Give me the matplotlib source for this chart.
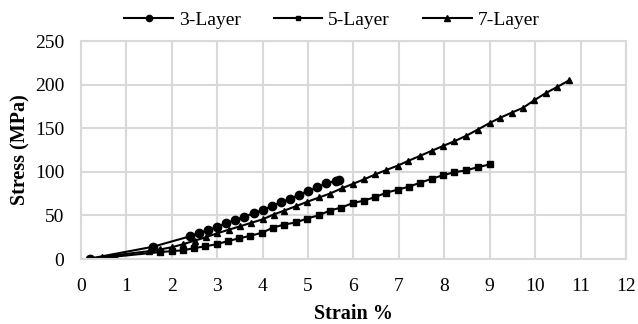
import matplotlib
matplotlib.use("Agg")
import matplotlib.pyplot as plt

# stress-strain data for the three laminates
strain_3 = [0.2, 1.58, 2.4, 2.6, 2.8, 3.0, 3.2, 3.4, 3.6, 3.8, 4.0, 4.2,
            4.4, 4.6, 4.8, 5.0, 5.2, 5.4, 5.62, 5.69]
stress_3 = [0.5, 14, 26, 30, 33, 37, 41, 45, 48.5, 52.5, 56, 60.5,
            65, 69, 73.5, 78, 82, 87, 89.5, 90.5]

strain_5 = [0.2, 0.72, 1.75, 2.0, 2.25, 2.49, 2.73, 2.99, 3.24, 3.48, 3.72,
            3.98, 4.23, 4.47, 4.74, 4.97, 5.23, 5.48, 5.73, 5.98, 6.23, 6.48,
            6.72, 6.97, 7.22, 7.47, 7.72, 7.97, 8.22, 8.47, 8.74, 9.0]
stress_5 = [0.3, 2.6, 8, 9, 10, 12.5, 14.5, 17, 20.6, 23.7, 26.5,
            30, 36, 39.5, 42, 46.4, 50, 55.6, 59, 64, 67, 71,
            76, 79.5, 83, 87.5, 92, 96, 99.6, 101.5, 105.4, 108.4]

strain_7 = [0.2, 0.47, 1.5, 1.75, 2.0, 2.25, 2.5, 2.75, 3.0, 3.25, 3.5, 3.75,
            4.0, 4.24, 4.47, 4.74, 4.98, 5.25, 5.48, 5.74, 5.98, 6.23, 6.48,
            6.72, 6.97, 7.21, 7.47, 7.72, 7.97, 8.22, 8.47, 8.74, 9.0, 9.23,
            9.49, 9.73, 9.98, 10.24, 10.49, 10.75]
stress_7 = [0.3, 2.5, 9, 11, 13.5, 17, 21, 25, 29.5, 33.5, 37.5, 41.5,
            45.5, 51, 55.4, 60.7, 65.6, 70.7, 75, 81, 86, 91.3, 97,
            102, 107, 112.6, 118.4, 124, 129.6, 135, 141, 148.5, 156, 162,
            168, 173.3, 182, 190.5, 197.4, 205]

x_ticks = list(range(0, 13))
y_ticks = [0, 50, 100, 150, 200, 250]

plt.rcParams['font.family'] = ['Liberation Serif', 'DejaVu Serif']

fig = plt.figure(figsize=(6.38, 3.24), dpi=100)
ax = fig.add_axes([81 / 638, 1 - 259 / 324, 545 / 638, 218 / 324])

grid_col = '#d9d9d9'
ax.plot(strain_3, stress_3, color='black', lw=1.5, marker='o', ms=6, label='3-Layer')
ax.plot(strain_5, stress_5, color='black', lw=1.5, marker='s', ms=4.5, label='5-Layer')
ax.plot(strain_7, stress_7, color='black', lw=1.5, marker='^', ms=5, label='7-Layer')

ax.set_xlim(0, 12)
ax.set_ylim(0, 250)
ax.set_xticks(x_ticks)
ax.set_yticks(y_ticks)
ax.grid(True, color=grid_col, lw=1.5)
ax.set_axisbelow(True)
for sp in ax.spines.values():
    sp.set_color(grid_col)
    sp.set_linewidth(1.5)
ax.tick_params(axis='x', length=0, labelsize=14, pad=14)
ax.tick_params(axis='y', length=0, labelsize=14, pad=12)

ax.set_xlabel('Strain %', fontsize=14.5, fontweight='bold', labelpad=6)
ax.set_ylabel('Stress (MPa)', fontsize=14.5, fontweight='bold', labelpad=3)

fig.legend(loc='upper center', bbox_to_anchor=(0.52, 1.02), ncol=3, frameon=False,
           fontsize=14, handlelength=2.5, columnspacing=1.7, handletextpad=0.3,
           markerscale=0.75)

fig.savefig('out.png', dpi=100)
